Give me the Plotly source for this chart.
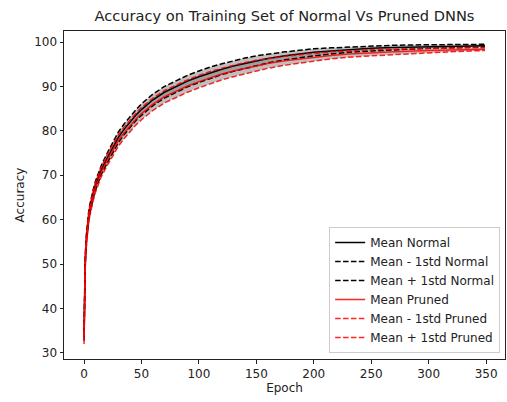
import plotly.graph_objects as go

epochs = [0, 1, 2, 3, 4, 5, 6, 8, 10, 12,
          15, 20, 25, 30, 35, 40, 45, 50,
          60, 70, 80, 90, 100, 110, 120, 130, 140, 150,
          160, 175, 190, 200, 215, 230, 250, 270, 300, 325, 349]

normal_mean = [33.6, 50.5, 55.5, 58.6, 60.7, 62.3, 63.6, 65.8, 67.7, 69.2,
               71.2, 73.8, 76.3, 78.6, 80.4, 82.0, 83.5, 84.8,
               87.0, 88.7, 90.0, 91.2, 92.2, 93.1, 93.9, 94.6, 95.2, 95.8,
               96.3, 96.9, 97.4, 97.7, 98.0, 98.3, 98.6, 98.8, 99.0, 99.1, 99.2]
normal_std = [0.9, 1.2, 1.1, 1.0, 1.0, 1.0, 1.0, 1.0, 1.0, 1.0,
              1.0, 1.1, 1.1, 1.2, 1.2, 1.2, 1.2, 1.3,
              1.3, 1.3, 1.3, 1.3, 1.3, 1.3, 1.2, 1.2, 1.2, 1.1,
              1.0, 0.9, 0.8, 0.8, 0.7, 0.6, 0.6, 0.5, 0.4, 0.35, 0.3]

pruned_mean = [33.0, 50.0, 55.0, 58.2, 60.3, 61.9, 63.2, 65.4, 67.3, 68.8,
               70.8, 73.3, 75.7, 77.9, 79.6, 81.2, 82.6, 83.9,
               86.0, 87.7, 88.9, 90.1, 91.1, 92.0, 92.8, 93.5, 94.1, 94.7,
               95.2, 95.8, 96.3, 96.6, 97.0, 97.3, 97.6, 97.8, 98.1, 98.3, 98.4]
pruned_std = [1.0, 1.3, 1.2, 1.1, 1.1, 1.1, 1.1, 1.1, 1.1, 1.1,
              1.1, 1.2, 1.2, 1.3, 1.3, 1.3, 1.3, 1.4,
              1.4, 1.4, 1.4, 1.4, 1.4, 1.4, 1.3, 1.3, 1.3, 1.2,
              1.1, 1.0, 0.9, 0.9, 0.8, 0.7, 0.7, 0.6, 0.5, 0.4, 0.3]

x_ticks = [0, 50, 100, 150, 200, 250, 300, 350]
y_ticks = [30, 40, 50, 60, 70, 80, 90, 100]

n_lo = [m - s for m, s in zip(normal_mean, normal_std)]
n_hi = [m + s for m, s in zip(normal_mean, normal_std)]
p_lo = [m - s for m, s in zip(pruned_mean, pruned_std)]
p_hi = [m + s for m, s in zip(pruned_mean, pruned_std)]

FILL = "rgba(128,128,128,0.5)"
DASH = "5.5px,2.4px"
RED = "rgba(255,0,0,0.85)"
fig = go.Figure()

# shaded bands
for lo, hi in [(n_lo, n_hi), (p_lo, p_hi)]:
    fig.add_trace(go.Scatter(x=epochs, y=lo, mode="lines", line=dict(width=0),
                             showlegend=False, hoverinfo="skip"))
    fig.add_trace(go.Scatter(x=epochs, y=hi, mode="lines", line=dict(width=0),
                             fill="tonexty", fillcolor=FILL,
                             showlegend=False, hoverinfo="skip"))

fig.add_trace(go.Scatter(x=epochs, y=normal_mean, mode="lines", name="Mean Normal",
                         line=dict(color="black", width=1.5)))
fig.add_trace(go.Scatter(x=epochs, y=n_lo, mode="lines", name="Mean - 1std Normal",
                         line=dict(color="black", width=1.5, dash=DASH)))
fig.add_trace(go.Scatter(x=epochs, y=n_hi, mode="lines", name="Mean + 1std Normal",
                         line=dict(color="black", width=1.5, dash=DASH)))
fig.add_trace(go.Scatter(x=epochs, y=pruned_mean, mode="lines", name="Mean Pruned",
                         line=dict(color=RED, width=1.5)))
fig.add_trace(go.Scatter(x=epochs, y=p_lo, mode="lines", name="Mean - 1std Pruned",
                         line=dict(color=RED, width=1.5, dash=DASH)))
fig.add_trace(go.Scatter(x=epochs, y=p_hi, mode="lines", name="Mean + 1std Pruned",
                         line=dict(color=RED, width=1.5, dash=DASH)))

FONT = "DejaVu Sans"
FS = 12
axis_common = dict(showline=True, mirror=True, linecolor="#222", linewidth=1,
                   ticks="outside", ticklen=3.5, tickwidth=1, tickcolor="#222",
                   showgrid=False, zeroline=False,
                   tickfont=dict(family=FONT, size=FS, color="#222"))

fig.update_layout(
    width=507, height=402,
    margin=dict(l=64, r=2, t=31, b=43),
    paper_bgcolor="white", plot_bgcolor="white",
    title=dict(text="Accuracy on Training Set of Normal Vs Pruned DNNs",
               x=(64 + 505) / 2 / 507, xanchor="center", y=1 - 16 / 402, yanchor="middle",
               font=dict(family=FONT, size=14.6, color="#222")),
    xaxis=dict(range=[-17.45, 366.45], tickvals=x_ticks,
               title=dict(text="Epoch", font=dict(family=FONT, size=FS, color="#222"), standoff=3),
               **axis_common),
    yaxis=dict(range=[28.6, 102.5], tickvals=y_ticks,
               title=dict(text="Accuracy", font=dict(family=FONT, size=FS, color="#222"), standoff=6),
               **axis_common),
    legend=dict(x=0.989, y=0.018, xanchor="right", yanchor="bottom",
                bgcolor="rgba(255,255,255,0.8)", bordercolor="#ccc", borderwidth=1,
                font=dict(family=FONT, size=FS, color="#222"),
                itemwidth=30, tracegroupgap=0, traceorder="normal"),
    showlegend=True,
)

fig.write_html("out.html", config={"displayModeBar": False})
